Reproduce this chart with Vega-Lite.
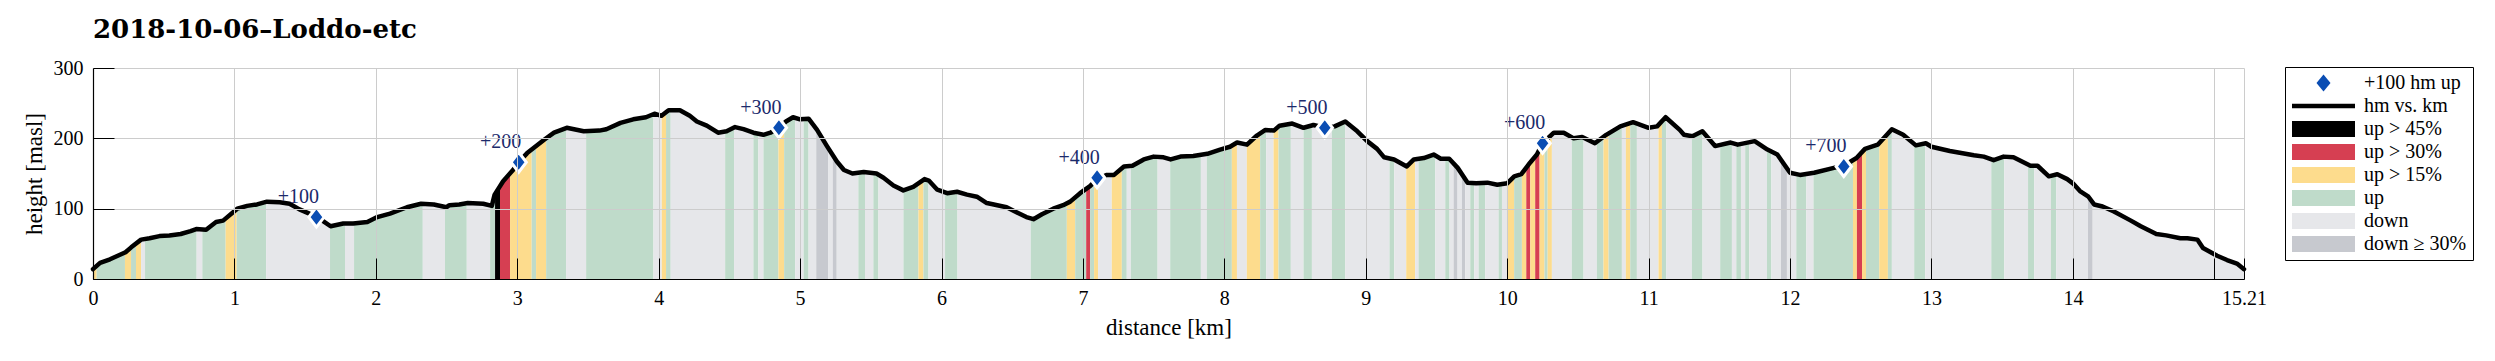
{
"$schema": "https://vega.github.io/schema/vega-lite/v6.json",
"width": 2151, "height": 211,
"autosize": {"type": "none"},
"padding": {"left": 93, "top": 68, "right": 251, "bottom": 82},
"background": "white",
"title": {"text": "2018-10-06–Loddo-etc", "anchor": "start", "frame": "group", "offset": 15, "font": "DejaVu Serif", "fontSize": 26, "fontWeight": "bold", "color": "#000"},
"config": {"view": {"stroke": null}, "font": "Liberation Serif"},
"datasets": {
"profile": [
{"km":0,"h":14},{"km":0.05,"h":23},{"km":0.12,"h":28},{"km":0.23,"h":38},{"km":0.27,"h":45},{"km":0.34,"h":56},{"km":0.4,"h":58},{"km":0.47,"h":61},{"km":0.54,"h":62},{"km":0.62,"h":64},{"km":0.69,"h":68},{"km":0.73,"h":71},{"km":0.8,"h":70},{"km":0.87,"h":81},{"km":0.92,"h":83},{"km":1.02,"h":100},{"km":1.09,"h":104},{"km":1.16,"h":106},{"km":1.23,"h":110},{"km":1.32,"h":109},{"km":1.39,"h":107},{"km":1.46,"h":99},{"km":1.53,"h":93},{"km":1.58,"h":89},{"km":1.63,"h":82},{"km":1.68,"h":75},{"km":1.77,"h":79},{"km":1.84,"h":79},{"km":1.94,"h":81},{"km":2.01,"h":88},{"km":2.1,"h":93},{"km":2.22,"h":102},{"km":2.32,"h":107},{"km":2.41,"h":106},{"km":2.5,"h":102},{"km":2.52,"h":105},{"km":2.59,"h":106},{"km":2.65,"h":108},{"km":2.76,"h":107},{"km":2.82,"h":104},{"km":2.84,"h":120},{"km":2.9,"h":139},{"km":2.97,"h":155},{"km":3.01,"h":166},{"km":3.07,"h":179},{"km":3.19,"h":198},{"km":3.26,"h":208},{"km":3.35,"h":215},{"km":3.47,"h":210},{"km":3.58,"h":211},{"km":3.63,"h":213},{"km":3.73,"h":222},{"km":3.82,"h":227},{"km":3.91,"h":230},{"km":3.97,"h":235},{"km":4.02,"h":232},{"km":4.07,"h":240},{"km":4.15,"h":240},{"km":4.22,"h":232},{"km":4.27,"h":224},{"km":4.34,"h":218},{"km":4.42,"h":208},{"km":4.48,"h":210},{"km":4.54,"h":216},{"km":4.6,"h":213},{"km":4.67,"h":208},{"km":4.74,"h":205},{"km":4.79,"h":208},{"km":4.85,"h":215},{"km":4.9,"h":224},{"km":4.95,"h":230},{"km":5,"h":227},{"km":5.06,"h":228},{"km":5.12,"h":212},{"km":5.19,"h":189},{"km":5.26,"h":167},{"km":5.31,"h":155},{"km":5.37,"h":150},{"km":5.45,"h":152},{"km":5.54,"h":150},{"km":5.59,"h":144},{"km":5.66,"h":133},{"km":5.73,"h":126},{"km":5.8,"h":131},{"km":5.88,"h":142},{"km":5.91,"h":140},{"km":5.97,"h":127},{"km":6.04,"h":122},{"km":6.11,"h":124},{"km":6.18,"h":120},{"km":6.25,"h":117},{"km":6.32,"h":108},{"km":6.37,"h":106},{"km":6.46,"h":102},{"km":6.53,"h":95},{"km":6.6,"h":88},{"km":6.65,"h":85},{"km":6.71,"h":92},{"km":6.79,"h":100},{"km":6.86,"h":105},{"km":6.91,"h":110},{"km":6.98,"h":122},{"km":7.05,"h":132},{"km":7.1,"h":142},{"km":7.17,"h":148},{"km":7.22,"h":148},{"km":7.29,"h":160},{"km":7.35,"h":161},{"km":7.43,"h":170},{"km":7.5,"h":174},{"km":7.57,"h":173},{"km":7.62,"h":170},{"km":7.69,"h":174},{"km":7.78,"h":175},{"km":7.88,"h":178},{"km":7.97,"h":184},{"km":8.04,"h":188},{"km":8.09,"h":194},{"km":8.16,"h":191},{"km":8.23,"h":204},{"km":8.29,"h":212},{"km":8.35,"h":211},{"km":8.39,"h":218},{"km":8.48,"h":221},{"km":8.56,"h":215},{"km":8.63,"h":219},{"km":8.71,"h":215},{"km":8.78,"h":217},{"km":8.855,"h":224},{"km":8.94,"h":210},{"km":9.01,"h":196},{"km":9.08,"h":185},{"km":9.13,"h":173},{"km":9.2,"h":170},{"km":9.29,"h":160},{"km":9.34,"h":170},{"km":9.41,"h":172},{"km":9.48,"h":177},{"km":9.53,"h":171},{"km":9.59,"h":171},{"km":9.65,"h":158},{"km":9.72,"h":137},{"km":9.78,"h":136},{"km":9.86,"h":137},{"km":9.93,"h":134},{"km":10,"h":136},{"km":10.05,"h":146},{"km":10.1,"h":149},{"km":10.16,"h":165},{"km":10.21,"h":177},{"km":10.25,"h":193},{"km":10.33,"h":208},{"km":10.4,"h":208},{"km":10.47,"h":200},{"km":10.53,"h":202},{"km":10.62,"h":193},{"km":10.7,"h":205},{"km":10.8,"h":217},{"km":10.89,"h":223},{"km":11,"h":215},{"km":11.06,"h":217},{"km":11.12,"h":230},{"km":11.22,"h":212},{"km":11.25,"h":205},{"km":11.31,"h":203},{"km":11.38,"h":210},{"km":11.47,"h":189},{"km":11.58,"h":194},{"km":11.63,"h":191},{"km":11.75,"h":196},{"km":11.84,"h":184},{"km":11.91,"h":177},{"km":12,"h":151},{"km":12.07,"h":148},{"km":12.17,"h":151},{"km":12.31,"h":158},{"km":12.38,"h":161},{"km":12.47,"h":172},{"km":12.53,"h":185},{"km":12.62,"h":191},{"km":12.72,"h":213},{"km":12.8,"h":205},{"km":12.89,"h":190},{"km":12.96,"h":193},{"km":13,"h":188},{"km":13.13,"h":182},{"km":13.3,"h":176},{"km":13.37,"h":174},{"km":13.44,"h":169},{"km":13.51,"h":174},{"km":13.58,"h":173},{"km":13.7,"h":161},{"km":13.75,"h":161},{"km":13.83,"h":146},{"km":13.89,"h":149},{"km":13.96,"h":142},{"km":14,"h":136},{"km":14.05,"h":125},{"km":14.11,"h":117},{"km":14.15,"h":106},{"km":14.21,"h":103},{"km":14.29,"h":96},{"km":14.41,"h":83},{"km":14.48,"h":75},{"km":14.59,"h":64},{"km":14.66,"h":62},{"km":14.76,"h":58},{"km":14.81,"h":58},{"km":14.88,"h":56},{"km":14.92,"h":44},{"km":15.02,"h":33},{"km":15.09,"h":27},{"km":15.16,"h":22},{"km":15.21,"h":14}
],
"bands": [
{"km":0,"km2":0.026,"cat":"up > 15%"},{"km":0.026,"km2":0.226,"cat":"up"},{"km":0.226,"km2":0.269,"cat":"up > 15%"},{"km":0.269,"km2":0.304,"cat":"up"},{"km":0.304,"km2":0.34,"cat":"up > 15%"},{"km":0.34,"km2":0.368,"cat":"down"},{"km":0.368,"km2":0.733,"cat":"up"},{"km":0.733,"km2":0.773,"cat":"down"},{"km":0.773,"km2":0.938,"cat":"up"},{"km":0.938,"km2":1.016,"cat":"up > 15%"},{"km":1.016,"km2":1.224,"cat":"up"},{"km":1.224,"km2":1.676,"cat":"down"},{"km":1.676,"km2":1.782,"cat":"up"},{"km":1.782,"km2":1.846,"cat":"down"},{"km":1.846,"km2":2.332,"cat":"up"},{"km":2.332,"km2":2.489,"cat":"down"},{"km":2.489,"km2":2.643,"cat":"up"},{"km":2.643,"km2":2.808,"cat":"down"},{"km":2.808,"km2":2.843,"cat":"up"},{"km":2.843,"km2":2.878,"cat":"up > 45%"},{"km":2.878,"km2":2.949,"cat":"up > 30%"},{"km":2.949,"km2":3.102,"cat":"up > 15%"},{"km":3.102,"km2":3.133,"cat":"up"},{"km":3.133,"km2":3.204,"cat":"up > 15%"},{"km":3.204,"km2":3.345,"cat":"up"},{"km":3.345,"km2":3.487,"cat":"down"},{"km":3.487,"km2":3.963,"cat":"up"},{"km":3.963,"km2":4.022,"cat":"down"},{"km":4.022,"km2":4.052,"cat":"up > 15%"},{"km":4.052,"km2":4.085,"cat":"up"},{"km":4.085,"km2":4.47,"cat":"down"},{"km":4.47,"km2":4.533,"cat":"up"},{"km":4.533,"km2":4.67,"cat":"down"},{"km":4.67,"km2":4.705,"cat":"up"},{"km":4.705,"km2":4.741,"cat":"down"},{"km":4.741,"km2":4.847,"cat":"up"},{"km":4.847,"km2":4.887,"cat":"up > 15%"},{"km":4.887,"km2":4.965,"cat":"up"},{"km":4.965,"km2":5.025,"cat":"down"},{"km":5.025,"km2":5.06,"cat":"up"},{"km":5.06,"km2":5.114,"cat":"down"},{"km":5.114,"km2":5.2,"cat":"down ≥ 30%"},{"km":5.2,"km2":5.231,"cat":"down"},{"km":5.231,"km2":5.259,"cat":"down ≥ 30%"},{"km":5.259,"km2":5.412,"cat":"down"},{"km":5.412,"km2":5.459,"cat":"up"},{"km":5.459,"km2":5.518,"cat":"down"},{"km":5.518,"km2":5.554,"cat":"up"},{"km":5.554,"km2":5.731,"cat":"down"},{"km":5.731,"km2":5.837,"cat":"up"},{"km":5.837,"km2":5.872,"cat":"up > 15%"},{"km":5.872,"km2":5.908,"cat":"up"},{"km":5.908,"km2":6.025,"cat":"down"},{"km":6.025,"km2":6.113,"cat":"up"},{"km":6.113,"km2":6.631,"cat":"down"},{"km":6.631,"km2":6.886,"cat":"up"},{"km":6.886,"km2":6.945,"cat":"up > 15%"},{"km":6.945,"km2":7.023,"cat":"up"},{"km":7.023,"km2":7.051,"cat":"up > 30%"},{"km":7.051,"km2":7.079,"cat":"up"},{"km":7.079,"km2":7.107,"cat":"up > 15%"},{"km":7.107,"km2":7.204,"cat":"down"},{"km":7.204,"km2":7.275,"cat":"up > 15%"},{"km":7.275,"km2":7.31,"cat":"up"},{"km":7.31,"km2":7.339,"cat":"down"},{"km":7.339,"km2":7.528,"cat":"up"},{"km":7.528,"km2":7.617,"cat":"down"},{"km":7.617,"km2":7.834,"cat":"up"},{"km":7.834,"km2":7.876,"cat":"down"},{"km":7.876,"km2":8.053,"cat":"up"},{"km":8.053,"km2":8.089,"cat":"up > 15%"},{"km":8.089,"km2":8.159,"cat":"down"},{"km":8.159,"km2":8.253,"cat":"up > 15%"},{"km":8.253,"km2":8.296,"cat":"up"},{"km":8.296,"km2":8.348,"cat":"down"},{"km":8.348,"km2":8.383,"cat":"up > 15%"},{"km":8.383,"km2":8.47,"cat":"up"},{"km":8.47,"km2":8.56,"cat":"down"},{"km":8.56,"km2":8.619,"cat":"up"},{"km":8.619,"km2":8.76,"cat":"down"},{"km":8.76,"km2":8.854,"cat":"up"},{"km":8.854,"km2":9.168,"cat":"down"},{"km":9.168,"km2":9.201,"cat":"up"},{"km":9.201,"km2":9.286,"cat":"down"},{"km":9.286,"km2":9.349,"cat":"up > 15%"},{"km":9.349,"km2":9.373,"cat":"down"},{"km":9.373,"km2":9.491,"cat":"up"},{"km":9.491,"km2":9.562,"cat":"down"},{"km":9.562,"km2":9.592,"cat":"up"},{"km":9.592,"km2":9.621,"cat":"down"},{"km":9.621,"km2":9.649,"cat":"down ≥ 30%"},{"km":9.649,"km2":9.68,"cat":"down"},{"km":9.68,"km2":9.703,"cat":"down ≥ 30%"},{"km":9.703,"km2":9.739,"cat":"down"},{"km":9.739,"km2":9.767,"cat":"up"},{"km":9.767,"km2":9.798,"cat":"down"},{"km":9.798,"km2":9.845,"cat":"up"},{"km":9.845,"km2":9.939,"cat":"down"},{"km":9.939,"km2":9.963,"cat":"up"},{"km":9.963,"km2":9.998,"cat":"down"},{"km":9.998,"km2":10.049,"cat":"up > 15%"},{"km":10.049,"km2":10.104,"cat":"up"},{"km":10.104,"km2":10.135,"cat":"up > 15%"},{"km":10.135,"km2":10.163,"cat":"up > 30%"},{"km":10.163,"km2":10.198,"cat":"up > 15%"},{"km":10.198,"km2":10.229,"cat":"up > 30%"},{"km":10.229,"km2":10.264,"cat":"up > 15%"},{"km":10.264,"km2":10.286,"cat":"up"},{"km":10.286,"km2":10.316,"cat":"up > 15%"},{"km":10.316,"km2":10.457,"cat":"down"},{"km":10.457,"km2":10.54,"cat":"up"},{"km":10.54,"km2":10.634,"cat":"down"},{"km":10.634,"km2":10.681,"cat":"up"},{"km":10.681,"km2":10.717,"cat":"up > 15%"},{"km":10.717,"km2":10.811,"cat":"up"},{"km":10.811,"km2":10.839,"cat":"down"},{"km":10.839,"km2":10.87,"cat":"up > 15%"},{"km":10.87,"km2":10.917,"cat":"up"},{"km":10.917,"km2":11.07,"cat":"down"},{"km":11.07,"km2":11.094,"cat":"up > 15%"},{"km":11.094,"km2":11.125,"cat":"up"},{"km":11.125,"km2":11.306,"cat":"down"},{"km":11.306,"km2":11.381,"cat":"up"},{"km":11.381,"km2":11.506,"cat":"down"},{"km":11.506,"km2":11.589,"cat":"up"},{"km":11.589,"km2":11.62,"cat":"down"},{"km":11.62,"km2":11.653,"cat":"up"},{"km":11.653,"km2":11.683,"cat":"down"},{"km":11.683,"km2":11.712,"cat":"up"},{"km":11.712,"km2":11.837,"cat":"down"},{"km":11.837,"km2":11.868,"cat":"up"},{"km":11.868,"km2":11.936,"cat":"down"},{"km":11.936,"km2":11.978,"cat":"down ≥ 30%"},{"km":11.978,"km2":12.044,"cat":"down"},{"km":12.044,"km2":12.115,"cat":"up"},{"km":12.115,"km2":12.166,"cat":"down"},{"km":12.166,"km2":12.445,"cat":"up"},{"km":12.445,"km2":12.473,"cat":"up > 15%"},{"km":12.473,"km2":12.509,"cat":"up > 30%"},{"km":12.509,"km2":12.537,"cat":"up > 15%"},{"km":12.537,"km2":12.631,"cat":"up"},{"km":12.631,"km2":12.692,"cat":"up > 15%"},{"km":12.692,"km2":12.72,"cat":"up"},{"km":12.72,"km2":12.878,"cat":"down"},{"km":12.878,"km2":12.956,"cat":"up"},{"km":12.956,"km2":13.423,"cat":"down"},{"km":13.423,"km2":13.515,"cat":"up"},{"km":13.515,"km2":13.683,"cat":"down"},{"km":13.683,"km2":13.727,"cat":"up"},{"km":13.727,"km2":13.845,"cat":"down"},{"km":13.845,"km2":13.882,"cat":"up"},{"km":13.882,"km2":14.107,"cat":"down"},{"km":14.107,"km2":14.14,"cat":"down ≥ 30%"},{"km":14.14,"km2":15.21,"cat":"down"}
],
"markers": [
{"km":1.58,"h":88,"label":"+100"},{"km":3.01,"h":166,"label":"+200"},{"km":4.85,"h":215,"label":"+300"},{"km":7.1,"h":144,"label":"+400"},{"km":8.71,"h":215,"label":"+500"},{"km":10.25,"h":193,"label":"+600"},{"km":12.38,"h":160,"label":"+700"}
],
"legendItems": [
{"cat":"+100 hm up"},{"cat":"hm vs. km"},{"cat":"up > 45%"},{"cat":"up > 30%"},{"cat":"up > 15%"},{"cat":"up"},{"cat":"down"},{"cat":"down ≥ 30%"}
]
},
"encoding": {
"x": {"field": "km", "type": "quantitative", "title": "distance [km]",
 "scale": {"domain": [0, 15.21], "nice": false, "zero": false},
 "axis": {"values": [0,1,2,3,4,5,6,7,8,9,10,11,12,13,14,15,15.21],
  "labelExpr": "datum.value == 15 ? '' : datum.value == 15.21 ? '15.21' : format(datum.value, 'd')",
  "grid": true, "gridColor": "#cccccc", "gridWidth": 1,
  "tickSize": -21, "tickColor": "#000", "tickWidth": 1,
  "domainColor": "#000", "domainWidth": 1.2,
  "labelPadding": 30, "labelFont": "Liberation Serif", "labelFontSize": 20, "labelColor": "#000",
  "labelOverlap": false, "labelFlush": false,
  "titleFont": "Liberation Serif", "titleFontSize": 23, "titleFontWeight": "normal", "titleColor": "#000", "titlePadding": 8,
  "zindex": 1}}
},
"layer": [
{"data": {"name": "bands"},
 "mark": {"type": "rect", "strokeWidth": 0},
 "encoding": {
  "x2": {"field": "km2"},
  "color": {"field": "cat", "type": "nominal",
   "scale": {"domain": ["+100 hm up","hm vs. km","up > 45%","up > 30%","up > 15%","up","down","down ≥ 30%"],
             "range": ["#0a4db3","#000000","#000000","#d63f52","#fddc8d","#bfdbca","#e6e7ea","#c7c9cf"]},
   "legend": {"orient": "none", "legendX": 2192, "legendY": -1, "title": null,
    "padding": 6, "strokeColor": "#000", "fillColor": "#fff",
    "symbolSize": 324, "symbolStrokeWidth": 0, "symbolOpacity": 1,
    "labelFont": "Liberation Serif", "labelFontSize": 20, "labelColor": "#000", "labelOffset": 53, "labelLimit": 300,
    "rowPadding": 3}}
 }},
{"data": {"name": "profile"},
 "mark": {"type": "area", "color": "#ffffff", "opacity": 1},
 "encoding": {
  "y": {"field": "h", "type": "quantitative", "title": "height [masl]",
   "scale": {"domain": [0, 300], "nice": false},
   "axis": {"values": [0,100,200,300], "grid": true, "gridColor": "#cccccc", "gridWidth": 1,
    "tickSize": -21, "tickColor": "#000", "tickWidth": 1,
    "domainColor": "#000", "domainWidth": 1.2,
    "labelPadding": 31, "labelFont": "Liberation Serif", "labelFontSize": 20, "labelColor": "#000",
    "titleFont": "Liberation Serif", "titleFontSize": 23, "titleFontWeight": "normal", "titleColor": "#000", "titlePadding": 7,
    "zindex": 1}},
  "y2": {"datum": 300}
 }},
{"data": {"name": "profile"},
 "mark": {"type": "line", "color": "#000", "strokeWidth": 4.5, "strokeJoin": "round", "strokeCap": "round"},
 "encoding": {"y": {"field": "h", "type": "quantitative", "title": "height [masl]"}}},
{"data": {"name": "markers"},
 "mark": {"type": "point", "shape": "M0,-1L0.77,0L0,1L-0.77,0Z", "size": 400, "filled": true, "fill": "#0a4db3", "stroke": "#ffffff", "strokeWidth": 3, "opacity": 1},
 "encoding": {"y": {"field": "h", "type": "quantitative", "title": "height [masl]"}}},
{"data": {"name": "markers"},
 "mark": {"type": "text", "dx": -18, "dy": -20, "font": "Liberation Serif", "fontSize": 20, "color": "#1b2a6b", "baseline": "middle", "align": "center"},
 "encoding": {"y": {"field": "h", "type": "quantitative", "title": "height [masl]"}, "text": {"field": "label"}}},
{"data": {"name": "legendItems"},
 "mark": {"type": "point", "filled": true, "opacity": 0},
 "encoding": {
  "color": {"field": "cat", "type": "nominal",
   "scale": {"domain": ["+100 hm up","hm vs. km","up > 45%","up > 30%","up > 15%","up","down","down ≥ 30%"],
             "range": ["#0a4db3","#000000","#000000","#d63f52","#fddc8d","#bfdbca","#e6e7ea","#c7c9cf"]},
   "legend": {"orient": "none", "legendX": 2192, "legendY": -1, "title": null,
    "padding": 6, "strokeColor": "#000", "fillColor": "#fff",
    "symbolSize": 324, "symbolStrokeWidth": 0, "symbolOpacity": 1,
    "labelFont": "Liberation Serif", "labelFontSize": 20, "labelColor": "#000", "labelOffset": 53, "labelLimit": 300,
    "rowPadding": 3}},
  "shape": {"field": "cat", "type": "nominal",
   "scale": {"domain": ["+100 hm up","hm vs. km","up > 45%","up > 30%","up > 15%","up","down","down ≥ 30%"],
             "range": ["M2.5,-0.94L3.28,0L2.5,0.94L1.72,0Z","M-1,-0.24H6V0.24H-1Z","M-1,-0.89H6V0.89H-1Z","M-1,-0.89H6V0.89H-1Z","M-1,-0.89H6V0.89H-1Z","M-1,-0.89H6V0.89H-1Z","M-1,-0.89H6V0.89H-1Z","M-1,-0.89H6V0.89H-1Z"]},
   "legend": {"orient": "none", "legendX": 2192, "legendY": -1, "title": null,
    "padding": 6, "strokeColor": "#000", "fillColor": "#fff",
    "symbolSize": 324, "symbolStrokeWidth": 0, "symbolOpacity": 1,
    "labelFont": "Liberation Serif", "labelFontSize": 20, "labelColor": "#000", "labelOffset": 53, "labelLimit": 300,
    "rowPadding": 3}}
 }}
]
}
